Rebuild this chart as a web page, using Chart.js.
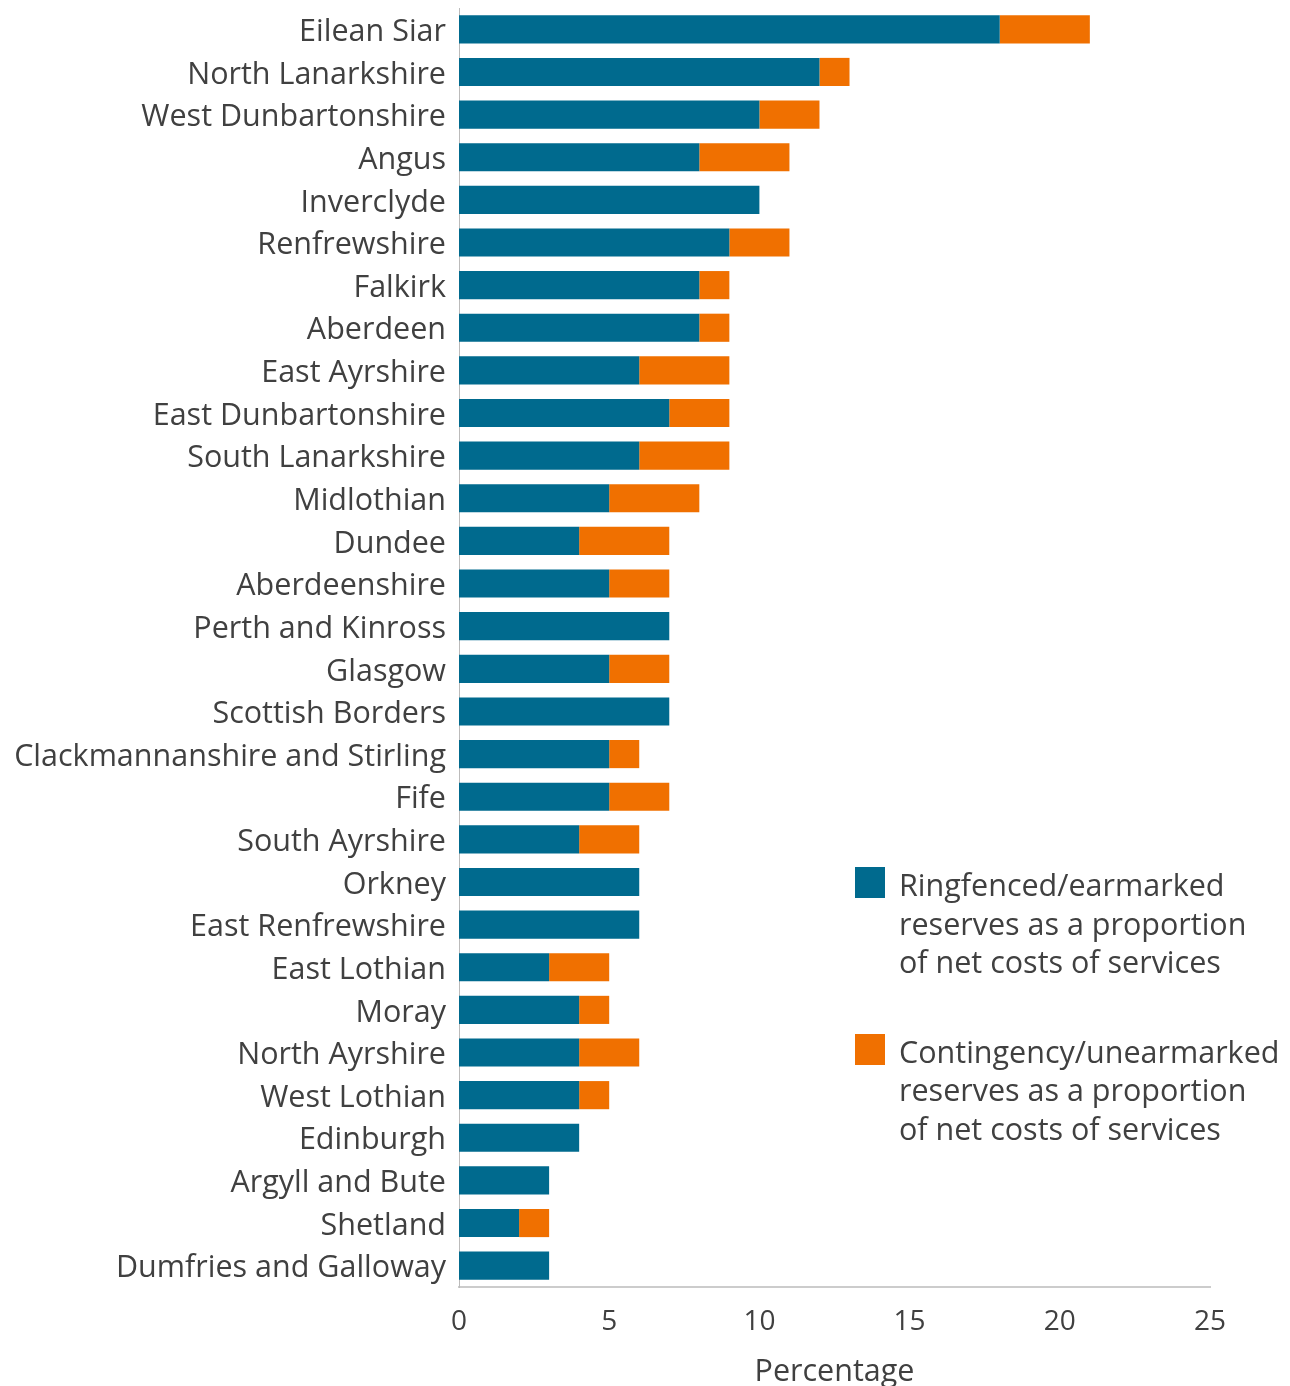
<!DOCTYPE html>
<html>
<head>
<meta charset="utf-8">
<script src="https://cdn.jsdelivr.net/npm/chart.js@4"></script>
<style>
  body { margin: 0; background: #fff; }
  #wrap { position: relative; width: 1290px; height: 1386px; }
  #legend { position: absolute; left: 855px; top: 865px; font-family: "Open Sans", Arial, sans-serif; font-size: 30.5px; color: #404040; line-height: 38.5px; }
  .item { position: relative; padding-left: 44px; margin-bottom: 51px; white-space: nowrap; }
  .box { position: absolute; left: 0; top: 2px; width: 30px; height: 31px; }
</style>
</head>
<body>
<div id="wrap">
  <canvas id="thecanvas" width="1290" height="1386"></canvas>
  <div id="legend"></div>
</div>
<script>
// data
const councils = ['Eilean Siar', 'North Lanarkshire', 'West Dunbartonshire', 'Angus', 'Inverclyde',
  'Renfrewshire', 'Falkirk', 'Aberdeen', 'East Ayrshire', 'East Dunbartonshire', 'South Lanarkshire',
  'Midlothian', 'Dundee', 'Aberdeenshire', 'Perth and Kinross', 'Glasgow', 'Scottish Borders',
  'Clackmannanshire and Stirling', 'Fife', 'South Ayrshire', 'Orkney', 'East Renfrewshire',
  'East Lothian', 'Moray', 'North Ayrshire', 'West Lothian', 'Edinburgh', 'Argyll and Bute',
  'Shetland', 'Dumfries and Galloway'];
const ringfenced = [18, 12, 10, 8, 10, 9, 8, 8, 6, 7, 6, 5, 4, 5, 7, 5, 7, 5, 5, 4, 6, 6, 3, 4, 4, 4, 4, 3, 2, 3];
const contingency = [3, 1, 2, 3, 0, 2, 1, 1, 3, 2, 3, 3, 3, 2, 0, 2, 0, 1, 2, 2, 0, 0, 2, 1, 2, 1, 0, 0, 1, 0];
const xticks = [0, 5, 10, 15, 20, 25];
const serieslabels = [
  ['Ringfenced/earmarked', 'reserves as a proportion', 'of net costs of services'],
  ['Contingency/unearmarked', 'reserves as a proportion', 'of net costs of services']
];
const colours = ['#006a8e', '#f07000'];

const fontname = '"Open Sans", Arial, sans-serif';
const txtcol = '#404040';

// html legend, text kept as text
const leg = document.getElementById('legend');
serieslabels.forEach(function(lines, i) {
  const d = document.createElement('div');
  d.className = 'item';
  d.innerHTML = '<span class="box" style="background:' + colours[i] + '"></span>' + lines.join('<br>');
  leg.appendChild(d);
});

const ctx = document.getElementById('thecanvas');
new Chart(ctx, {
  type: 'bar',
  data: {
    labels: councils,
    datasets: [
      { label: serieslabels[0].join(' '), data: ringfenced, backgroundColor: colours[0], barPercentage: 0.66, categoryPercentage: 1 },
      { label: serieslabels[1].join(' '), data: contingency, backgroundColor: colours[1], barPercentage: 0.66, categoryPercentage: 1 }
    ]
  },
  options: {
    indexAxis: 'y',
    responsive: false,
    animation: false,
    layout: { padding: { top: 8, right: 80, left: 0, bottom: 0 } },
    plugins: { legend: { display: false }, tooltip: { enabled: false } },
    scales: {
      x: {
        stacked: true,
        min: 0, max: 25,
        afterBuildTicks: function(s) { s.ticks = xticks.map(function(v) { return { value: v }; }); },
        afterFit: function(s) { s.height = 99; },
        grid: { display: false, drawTicks: false },
        border: { color: '#cccccc', width: 2 },
        ticks: { color: txtcol, font: { family: fontname, size: 28 }, padding: 18 },
        title: { display: true, text: 'Percentage', color: txtcol, font: { family: fontname, size: 30.5 }, padding: { top: 10, bottom: -5 } }
      },
      y: {
        stacked: true,
        afterFit: function(s) { s.width = 459; s.paddingTop = 0; s.paddingBottom = 0; },
        grid: { display: false, drawTicks: false },
        border: { color: '#bbbbbb', width: 1 },
        ticks: { color: txtcol, font: { family: fontname, size: 30.5 }, padding: 13, autoSkip: false, labelOffset: 3 }
      }
    }
  }
});
</script>
</body>
</html>
